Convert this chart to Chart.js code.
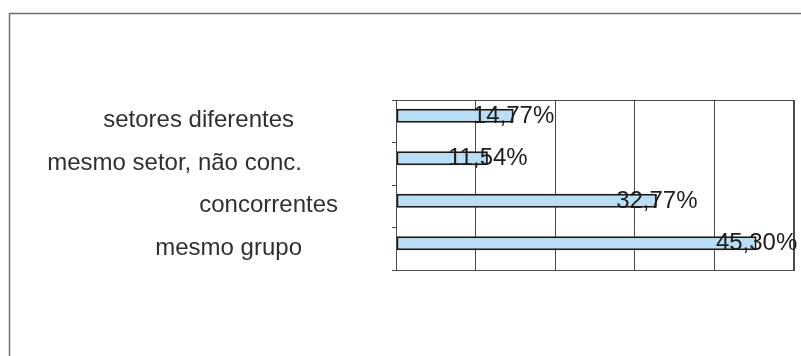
<!DOCTYPE html>
<html>
<head>
<meta charset="utf-8">
<script src="https://cdn.jsdelivr.net/npm/chart.js@4/dist/chart.umd.min.js"></script>
<style>
  html, body { margin: 0; padding: 0; background: #ffffff; }
  #wrap { width: 801px; height: 356px; position: relative; }
</style>
</head>
<body>
<div id="wrap"><canvas id="c" width="801" height="356"></canvas></div>
<script>
// Categories (top to bottom) and their shares in percent
const categories = ['setores diferentes', 'mesmo setor, não conc.', 'concorrentes', 'mesmo grupo'];
const shares = [14.77, 11.54, 32.77, 45.30];
// Second, empty series of the clustered layout (leaves the bars sitting high in each band)
const spacerSeries = [null, null, null, null];
const xTicks = [0, 10, 20, 30, 40, 50];

// Layout / style constants
const LABEL_FONT = '24px "Liberation Sans", Arial, sans-serif';
const categoryLabelRight = [294, 302, 338, 302];
const GRID_COLOR = '#4a4a4a';

const fmt = v => v.toFixed(2).replace('.', ',') + '%';

const decorations = {
  id: 'decorations',
  beforeDraw(chart) {
    const ctx = chart.ctx;
    ctx.save();
    ctx.fillStyle = '#ffffff';
    ctx.fillRect(0, 0, chart.width, chart.height);
    // outer frame (left and top edges)
    ctx.strokeStyle = '#6e6e6e';
    ctx.lineWidth = 1.5;
    ctx.beginPath();
    ctx.moveTo(9.5, chart.height);
    ctx.lineTo(9.5, 13.5);
    ctx.lineTo(chart.width, 13.5);
    ctx.stroke();
    ctx.restore();
  },
  afterDatasetsDraw(chart) {
    const ctx = chart.ctx;
    const a = chart.chartArea;
    const yScale = chart.scales.y;
    ctx.save();
    // plot area border
    ctx.strokeStyle = GRID_COLOR;
    ctx.lineWidth = 1;
    ctx.strokeRect(a.left + 0.5, a.top + 0.5, a.right - a.left - 1, a.bottom - a.top);
    // category labels
    ctx.font = LABEL_FONT;
    ctx.fillStyle = '#303030';
    ctx.textAlign = 'right';
    ctx.textBaseline = 'alphabetic';
    categories.forEach((c, i) => {
      ctx.fillText(c, categoryLabelRight[i], yScale.getPixelForValue(i) + 6);
    });
    // value labels centred on the bar ends
    const meta = chart.getDatasetMeta(0);
    ctx.fillStyle = '#1e1e1e';
    ctx.textAlign = 'center';
    meta.data.forEach((bar, i) => {
      ctx.fillText(fmt(shares[i]), bar.x, bar.y + 7);
    });
    ctx.restore();
  }
};

new Chart(document.getElementById('c'), {
  type: 'bar',
  data: {
    labels: categories,
    datasets: [
      {
        data: shares,
        backgroundColor: '#b9def5',
        borderColor: '#1a1a1a',
        borderWidth: 2,
        borderSkipped: false,
        categoryPercentage: 0.52,
        barPercentage: 1.27
      },
      {
        data: spacerSeries,
        backgroundColor: 'rgba(0,0,0,0)',
        borderWidth: 0,
        categoryPercentage: 0.52,
        barPercentage: 1.27
      }
    ]
  },
  options: {
    indexAxis: 'y',
    responsive: false,
    animation: false,
    layout: { padding: { left: 392, top: 100, right: 7, bottom: 86 } },
    plugins: { legend: { display: false }, tooltip: { enabled: false } },
    scales: {
      x: {
        min: xTicks[0],
        max: xTicks[xTicks.length - 1],
        afterBuildTicks: s => { s.ticks = xTicks.map(v => ({ value: v })); },
        afterFit: s => { s.height = 0; },
        ticks: { display: false },
        grid: { color: GRID_COLOR, lineWidth: 1, drawTicks: false },
        border: { color: GRID_COLOR, width: 1 }
      },
      y: {
        afterFit: s => { s.width = 4; },
        ticks: { display: false },
        grid: { drawOnChartArea: false, drawTicks: true, tickLength: 4, color: GRID_COLOR },
        border: { color: GRID_COLOR, width: 1 }
      }
    }
  },
  plugins: [decorations]
});
</script>
</body>
</html>
